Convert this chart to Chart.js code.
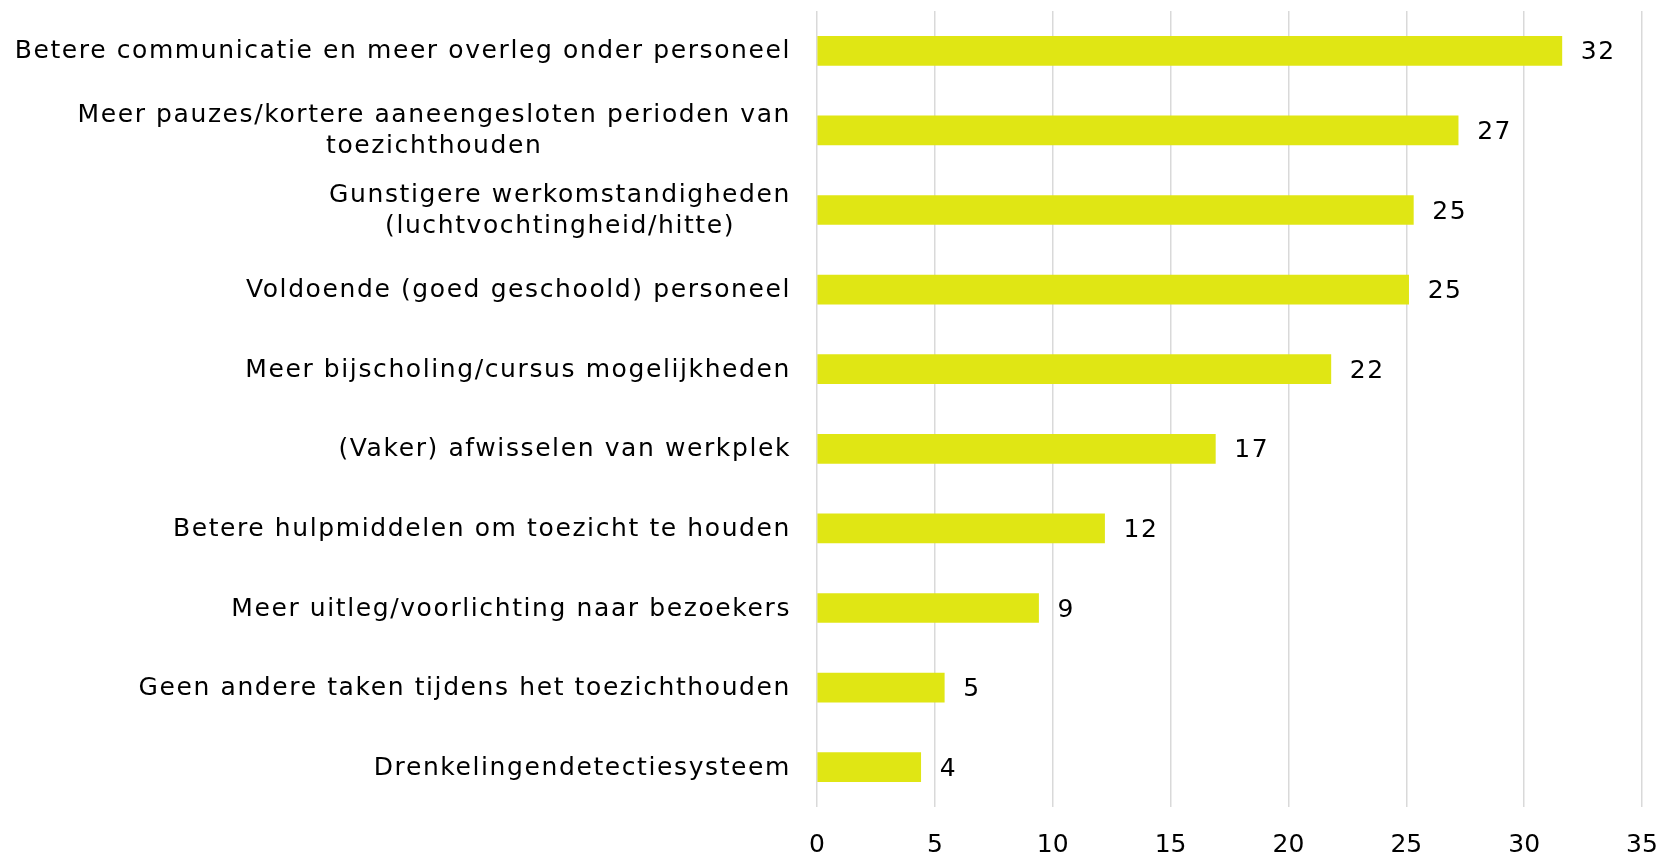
<!DOCTYPE html>
<html>
<head>
<meta charset="utf-8">
<script src="https://cdn.jsdelivr.net/npm/chart.js@4"></script>
<style>
  html, body { margin: 0; padding: 0; background: #fff; }
</style>
</head>
<body>
<canvas id="chart" width="1673" height="856"></canvas>
<script>
const categories = [
  ['Betere communicatie en meer overleg onder personeel'],
  ['Meer pauzes/kortere aaneengesloten perioden van', 'toezichthouden'],
  ['Gunstigere werkomstandigheden', '(luchtvochtingheid/hitte)'],
  ['Voldoende (goed geschoold) personeel'],
  ['Meer bijscholing/cursus mogelijkheden'],
  ['(Vaker) afwisselen van werkplek'],
  ['Betere hulpmiddelen om toezicht te houden'],
  ['Meer uitleg/voorlichting naar bezoekers'],
  ['Geen andere taken tijdens het toezichthouden'],
  ['Drenkelingendetectiesysteem']
];
const values = [31.6, 27.2, 25.3, 25.1, 21.8, 16.9, 12.2, 9.4, 5.4, 4.4];
const xTicks = [0, 5, 10, 15, 20, 25, 30, 35];

const FONT = '25px "DejaVu Sans"';

// value next to each bar, rounded like the original
const valueLabels = {
  id: 'valueLabels',
  afterDatasetsDraw(chart) {
    const ctx = chart.ctx;
    const meta = chart.getDatasetMeta(0);
    ctx.save();
    ctx.font = FONT;
    ctx.letterSpacing = '1.5px';
    ctx.fillStyle = '#000';
    ctx.textAlign = 'left';
    ctx.textBaseline = 'middle';
    meta.data.forEach((bar, i) => {
      ctx.fillText(String(Math.round(values[i])), bar.x + 19, bar.y + 2);
    });
    ctx.restore();
  }
};

// category labels: block right aligned, lines centred inside the block
const categoryLabels = {
  id: 'categoryLabels',
  afterDraw(chart) {
    const ctx = chart.ctx;
    const yScale = chart.scales.y;
    const right = chart.chartArea.left - 26;
    const lineH = 31;
    ctx.save();
    ctx.font = FONT;
    ctx.letterSpacing = '1.6px';
    ctx.fillStyle = '#000';
    ctx.textAlign = 'center';
    ctx.textBaseline = 'middle';
    categories.forEach((lines, i) => {
      const yc = yScale.getPixelForValue(i) + 1;
      const blockW = Math.max(...lines.map(l => ctx.measureText(l).width));
      const cx = right - blockW / 2;
      lines.forEach((line, j) => {
        ctx.fillText(line, cx, yc + (j - (lines.length - 1) / 2) * lineH);
      });
    });
    ctx.restore();
  }
};

new Chart(document.getElementById('chart'), {
  type: 'bar',
  data: {
    labels: categories,
    datasets: [{
      data: values,
      backgroundColor: '#e0e614',
      barThickness: 29
    }]
  },
  options: {
    indexAxis: 'y',
    responsive: false,
    animation: false,
    layout: { padding: { top: 11, right: 31, bottom: 0, left: 0 } },
    plugins: {
      legend: { display: false },
      tooltip: { enabled: false }
    },
    scales: {
      x: {
        min: 0,
        max: 35,
        afterBuildTicks: s => { s.ticks = xTicks.map(v => ({ value: v })); },
        afterFit: s => { s.height = 49; s.paddingLeft = 0; s.paddingRight = 0; },
        ticks: { color: '#000', font: { family: 'DejaVu Sans', size: 25 }, padding: 23.5 },
        grid: { color: '#d9d9d9', lineWidth: 1.5, drawTicks: false },
        border: { display: false }
      },
      y: {
        afterFit: s => { s.width = 817; },
        ticks: { display: false },
        grid: { display: false },
        border: { display: false }
      }
    }
  },
  plugins: [valueLabels, categoryLabels]
});
</script>
</body>
</html>
